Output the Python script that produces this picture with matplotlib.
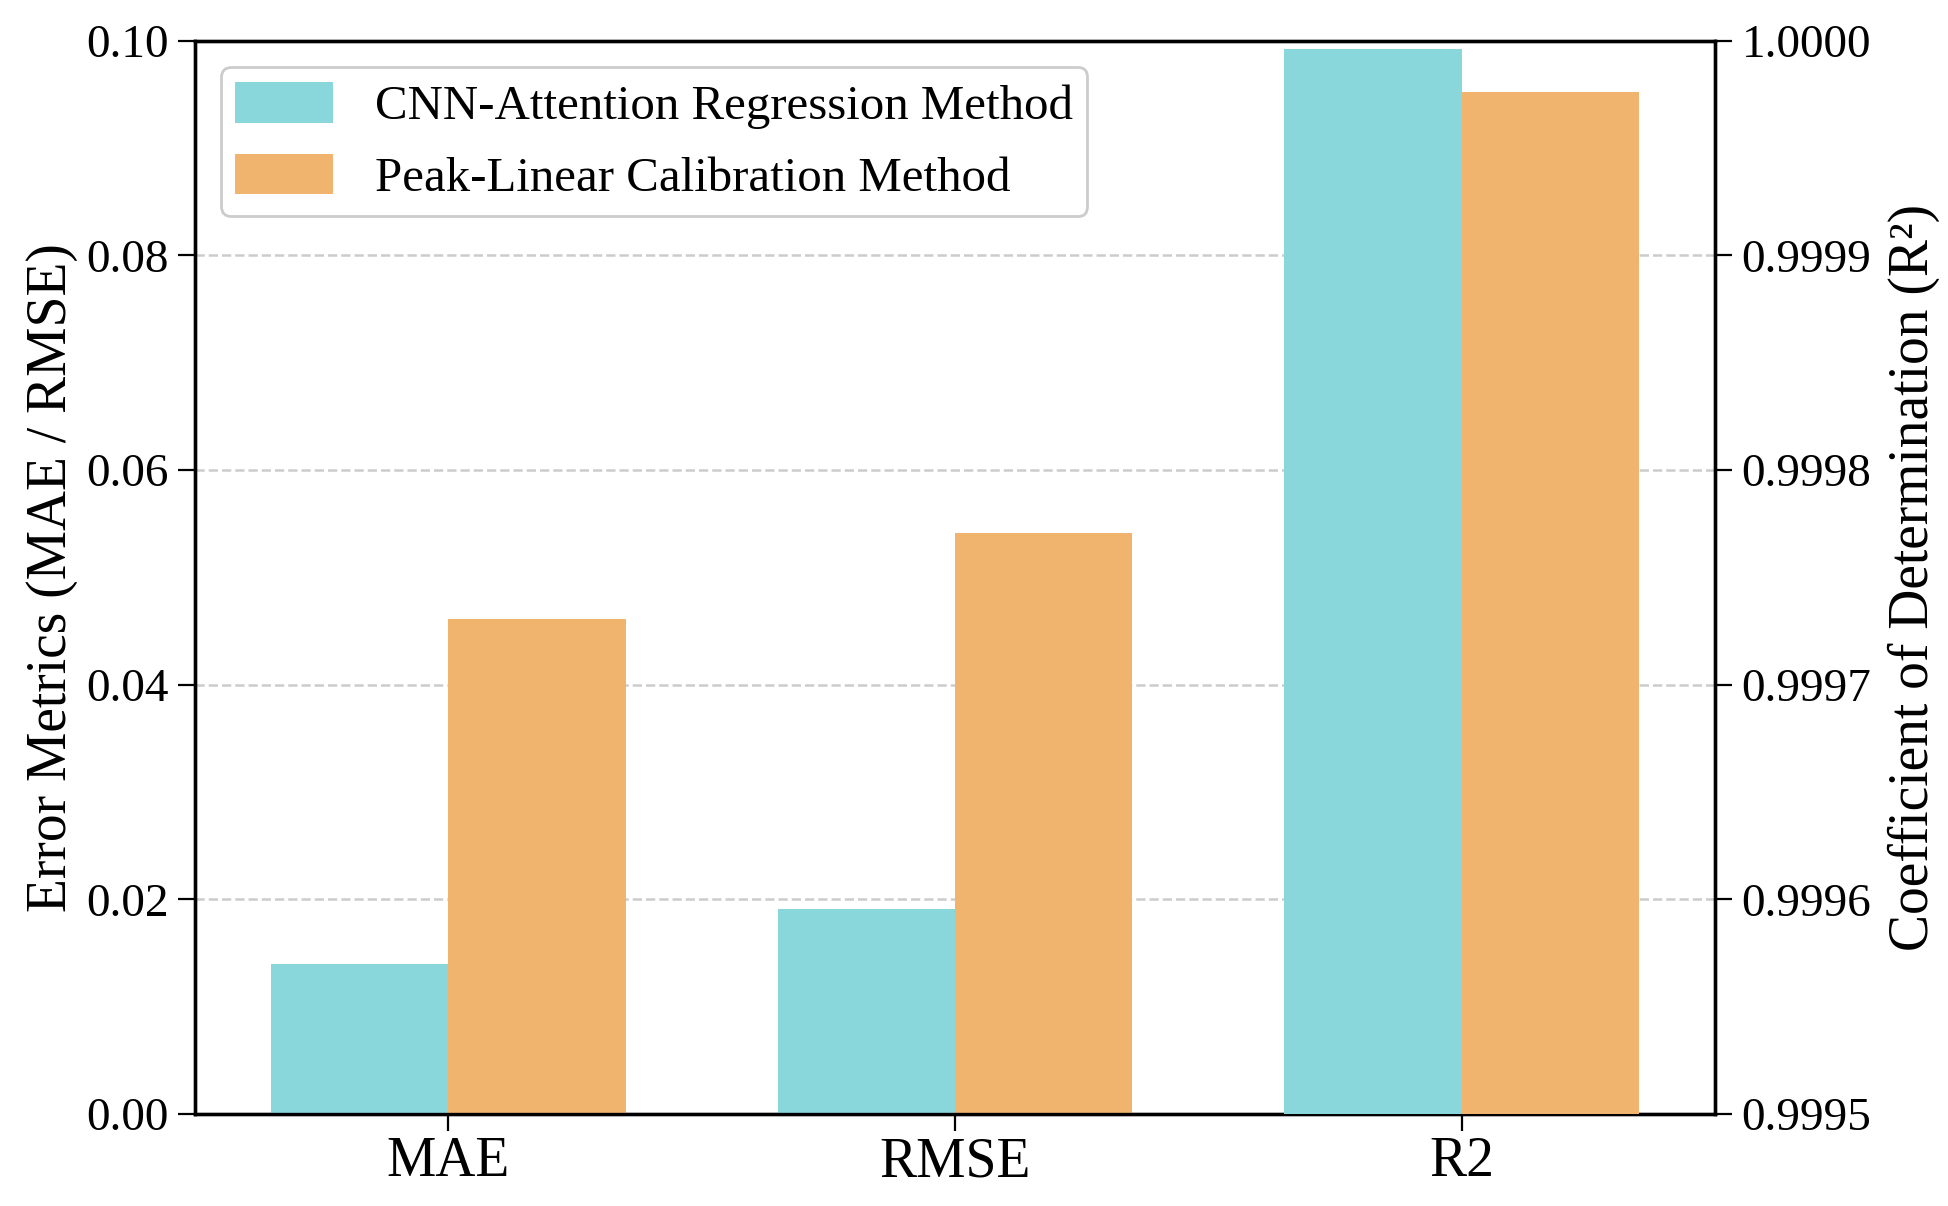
import numpy as np
import matplotlib
matplotlib.use("Agg")
import matplotlib.pyplot as plt

plt.rcParams['font.family'] = ['Liberation Serif', 'DejaVu Serif']

metrics = ["MAE", "RMSE", "R2"]
cnn_err = [0.0140, 0.0191]
peak_err = [0.0461, 0.0541]
cnn_r2 = 0.999996
peak_r2 = 0.999976

c_cnn = "#8AD7DB"
c_peak = "#F0B46E"

x = np.arange(len(metrics))
w = 0.35

fig = plt.figure(figsize=(9.745, 6.03), dpi=200)
ax = fig.add_axes([0.100, 0.0763, 0.780, 0.890])
ax2 = ax.twinx()

# error metrics on left axis
ax.bar(x[:2] - w / 2, cnn_err, w, color=c_cnn, label="CNN-Attention Regression Method", zorder=3)
ax.bar(x[:2] + w / 2, peak_err, w, color=c_peak, label="Peak-Linear Calibration Method", zorder=3)

# R2 on right axis
ax2.bar(x[2] - w / 2, cnn_r2, w, color=c_cnn, zorder=3)
ax2.bar(x[2] + w / 2, peak_r2, w, color=c_peak, zorder=3)

ax.set_ylim(0, 0.10)
ax.set_yticks(np.arange(0, 0.101, 0.02))
ax.set_yticklabels([f"{v:.2f}" for v in np.arange(0, 0.101, 0.02)])
ax2.set_ylim(0.9995, 1.0)
ax2.set_yticks(np.linspace(0.9995, 1.0, 6))
ax2.set_yticklabels([f"{v:.4f}" for v in np.linspace(0.9995, 1.0, 6)])

ax.set_xlim(-0.5, 2.5)
ax.set_xticks(x)
ax.set_xticklabels(metrics, fontsize=20)

ax.yaxis.grid(True, linestyle="--", color="#cccccc", linewidth=0.9, zorder=0)
ax.set_axisbelow(True)

ax.tick_params(axis="y", labelsize=17, length=6)
ax.tick_params(axis="x", length=6, pad=2)
ax2.tick_params(axis="y", labelsize=17, length=6)

ax.set_ylabel("Error Metrics (MAE / RMSE)", fontsize=20, labelpad=3)
ax2.set_ylabel("Coefficient of Determination (R²)", fontsize=20, labelpad=6)

for a in (ax, ax2):
    for s in a.spines.values():
        s.set_linewidth(1.2)

ax.legend(loc="upper left", fontsize=17.6, handlelength=2.0, handleheight=0.9,
          borderpad=0.3, labelspacing=0.5, handletextpad=0.85, borderaxespad=0,
          framealpha=1, edgecolor="#cccccc", bbox_to_anchor=(0.017, 0.975))

fig.savefig("out.png", dpi=200)
